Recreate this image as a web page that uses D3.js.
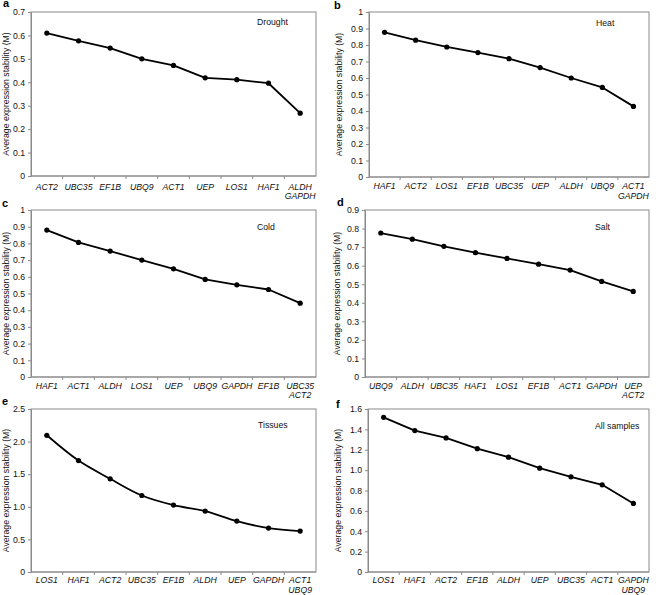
<!DOCTYPE html>
<html>
<head>
<meta charset="utf-8">
<script src="https://cdn.jsdelivr.net/npm/d3@7"></script>
<style>
  html, body { margin: 0; padding: 0; background: #fff; }
  svg { display: block; font-family: "Liberation Sans", Arial, sans-serif; }
</style>
</head>
<body>
<svg id="chart" width="656" height="595"></svg>
<script>
// ---------- data ----------
const droughtGenes = ["ACT2", "UBC35", "EF1B", "UBQ9", "ACT1", "UEP", "LOS1", "HAF1", "ALDH\nGAPDH"];
const droughtM     = [0.610, 0.577, 0.546, 0.500, 0.472, 0.419, 0.411, 0.396, 0.268];

const heatGenes = ["HAF1", "ACT2", "LOS1", "EF1B", "UBC35", "UEP", "ALDH", "UBQ9", "ACT1\nGAPDH"];
const heatM     = [0.877, 0.829, 0.788, 0.754, 0.717, 0.663, 0.600, 0.543, 0.428];

const coldGenes = ["HAF1", "ACT1", "ALDH", "LOS1", "UEP", "UBQ9", "GAPDH", "EF1B", "UBC35\nACT2"];
const coldM     = [0.880, 0.806, 0.754, 0.700, 0.648, 0.584, 0.552, 0.524, 0.442];

const saltGenes = ["UBQ9", "ALDH", "UBC35", "HAF1", "LOS1", "EF1B", "ACT1", "GAPDH", "UEP\nACT2"];
const saltM     = [0.776, 0.743, 0.704, 0.670, 0.639, 0.608, 0.576, 0.515, 0.461];

const tissueGenes = ["LOS1", "HAF1", "ACT2", "UBC35", "EF1B", "ALDH", "UEP", "GAPDH", "ACT1\nUBQ9"];
const tissueM     = [2.097, 1.709, 1.429, 1.173, 1.026, 0.934, 0.781, 0.673, 0.628];

const allGenes = ["LOS1", "HAF1", "ACT2", "EF1B", "ALDH", "UEP", "UBC35", "ACT1", "GAPDH\nUBQ9"];
const allM     = [1.518, 1.388, 1.316, 1.211, 1.127, 1.019, 0.934, 0.856, 0.673];

const ticks07 = [0, 0.1, 0.2, 0.3, 0.4, 0.5, 0.6, 0.7];
const labels07 = ["0", "0.1", "0.2", "0.3", "0.4", "0.5", "0.6", "0.7"];
const ticks10 = [0, 0.1, 0.2, 0.3, 0.4, 0.5, 0.6, 0.7, 0.8, 0.9, 1];
const labels10 = ["0", "0.1", "0.2", "0.3", "0.4", "0.5", "0.6", "0.7", "0.8", "0.9", "1"];
const ticks09 = [0, 0.1, 0.2, 0.3, 0.4, 0.5, 0.6, 0.7, 0.8, 0.9];
const labels09 = ["0", "0.1", "0.2", "0.3", "0.4", "0.5", "0.6", "0.7", "0.8", "0.9"];
const ticks25 = [0, 0.5, 1.0, 1.5, 2.0, 2.5];
const labels25 = ["0", "0.5", "1.0", "1.5", "2.0", "2.5"];
const ticks16 = [0, 0.2, 0.4, 0.6, 0.8, 1.0, 1.2, 1.4, 1.6];
const labels16 = ["0", "0.2", "0.4", "0.6", "0.8", "1.0", "1.2", "1.4", "1.6"];

const panelLetters = ["a", "b", "c", "d", "e", "f"];
const panelTitles = ["Drought", "Heat", "Cold", "Salt", "Tissues", "All samples"];
const yTitle = "Average expression stability (M)";

// ---------- layout ----------
const panels = [
  { genes: droughtGenes, vals: droughtM, ticks: ticks07, labels: labels07, max: 0.7,
    box: [31, 12, 316, 176], letter: [3, 7], title: [257, 25], ytx: 5.5, smooth: false, lab: 13.5 },
  { genes: heatGenes, vals: heatM, ticks: ticks10, labels: labels10, max: 1,
    box: [369, 12, 649, 177], letter: [334, 9], title: [596, 26], ytx: 339, smooth: false, lab: 12 },
  { genes: coldGenes, vals: coldM, ticks: ticks10, labels: labels10, max: 1,
    box: [31, 210, 316, 377], letter: [2, 207], title: [257, 230], ytx: 5.5, smooth: false, lab: 11.5 },
  { genes: saltGenes, vals: saltM, ticks: ticks09, labels: labels09, max: 0.9,
    box: [365, 210, 649, 377], letter: [337, 206], title: [595, 230], ytx: 336.5, smooth: false, lab: 11.5 },
  { genes: tissueGenes, vals: tissueM, ticks: ticks25, labels: labels25, max: 2.5,
    box: [31, 409, 316, 572], letter: [2, 405], title: [258, 428], ytx: 5.5, smooth: true, lab: 11 },
  { genes: allGenes, vals: allM, ticks: ticks16, labels: labels16, max: 1.6,
    box: [368, 409, 649, 572], letter: [336, 408], title: [595, 429], ytx: 338, smooth: false, lab: 11 }
];

const svg = d3.select("#chart");
const gray = "#8a8a8a";
const fs = 8.7;

panels.forEach((p, pi) => {
  const [x0, y0, x1, y1] = p.box;
  const g = svg.append("g");
  const x = d3.scaleBand().domain(p.genes).range([x0, x1]).padding(0);
  const y = d3.scaleLinear().domain([0, p.max]).range([y1, y0]);
  const bw = x.bandwidth();

  // box
  g.append("rect").attr("x", x0).attr("y", y0).attr("width", x1 - x0).attr("height", y1 - y0)
    .attr("fill", "none").attr("stroke", gray).attr("stroke-width", 1);

  // y axis
  const ya = g.append("g").attr("transform", `translate(${x0},0)`)
    .call(d3.axisLeft(y).tickValues(p.ticks).tickFormat((d, i) => p.labels[i]).tickSize(3).tickSizeOuter(0).tickPadding(3));
  ya.select(".domain").attr("stroke", gray);
  ya.selectAll(".tick line").attr("stroke", gray);
  ya.selectAll(".tick text").attr("font-size", fs).attr("fill", "#111").attr("font-family", "Liberation Sans, Arial, sans-serif");

  // x axis line and boundary ticks
  g.append("line").attr("x1", x0).attr("x2", x1).attr("y1", y1).attr("y2", y1).attr("stroke", gray);
  g.selectAll(".xtick").data(p.genes.slice(1)).enter().append("line")
    .attr("x1", d => x(d)).attr("x2", d => x(d)).attr("y1", y1).attr("y2", y1 + 3)
    .attr("stroke", gray);

  // x labels
  p.genes.forEach(gene => {
    const lines = gene.split("\n");
    const t = g.append("text").attr("text-anchor", "middle").attr("font-size", fs)
      .attr("font-style", "italic").attr("fill", "#111");
    lines.forEach((ln, li) => {
      t.append("tspan").attr("x", x(gene) + bw / 2).attr("y", y1 + p.lab + li * 9.5).text(ln);
    });
  });

  // y title
  g.append("text")
    .attr("transform", `translate(${p.ytx},${(y0 + y1) / 2}) rotate(-90)`)
    .attr("text-anchor", "middle").attr("dominant-baseline", "central")
    .attr("font-size", fs).attr("fill", "#111").text(yTitle);

  // panel letter
  g.append("text").attr("x", p.letter[0]).attr("y", p.letter[1])
    .attr("font-size", 11).attr("font-weight", "bold").attr("fill", "#000").text(panelLetters[pi]);

  // title
  g.append("text").attr("x", p.title[0]).attr("y", p.title[1])
    .attr("font-size", fs).attr("fill", "#111").text(panelTitles[pi]);

  // line
  const pts = p.genes.map((gene, i) => [x(gene) + bw / 2, y(p.vals[i])]);
  const line = d3.line().curve(p.smooth ? d3.curveCatmullRom.alpha(0.5) : d3.curveLinear);
  g.append("path").attr("d", line(pts)).attr("fill", "none").attr("stroke", "#000")
    .attr("stroke-width", 1.8).attr("stroke-linejoin", "round");

  g.selectAll(".dot").data(pts).enter().append("circle")
    .attr("cx", d => d[0]).attr("cy", d => d[1]).attr("r", 2.6).attr("fill", "#000");
});
</script>
</body>
</html>
